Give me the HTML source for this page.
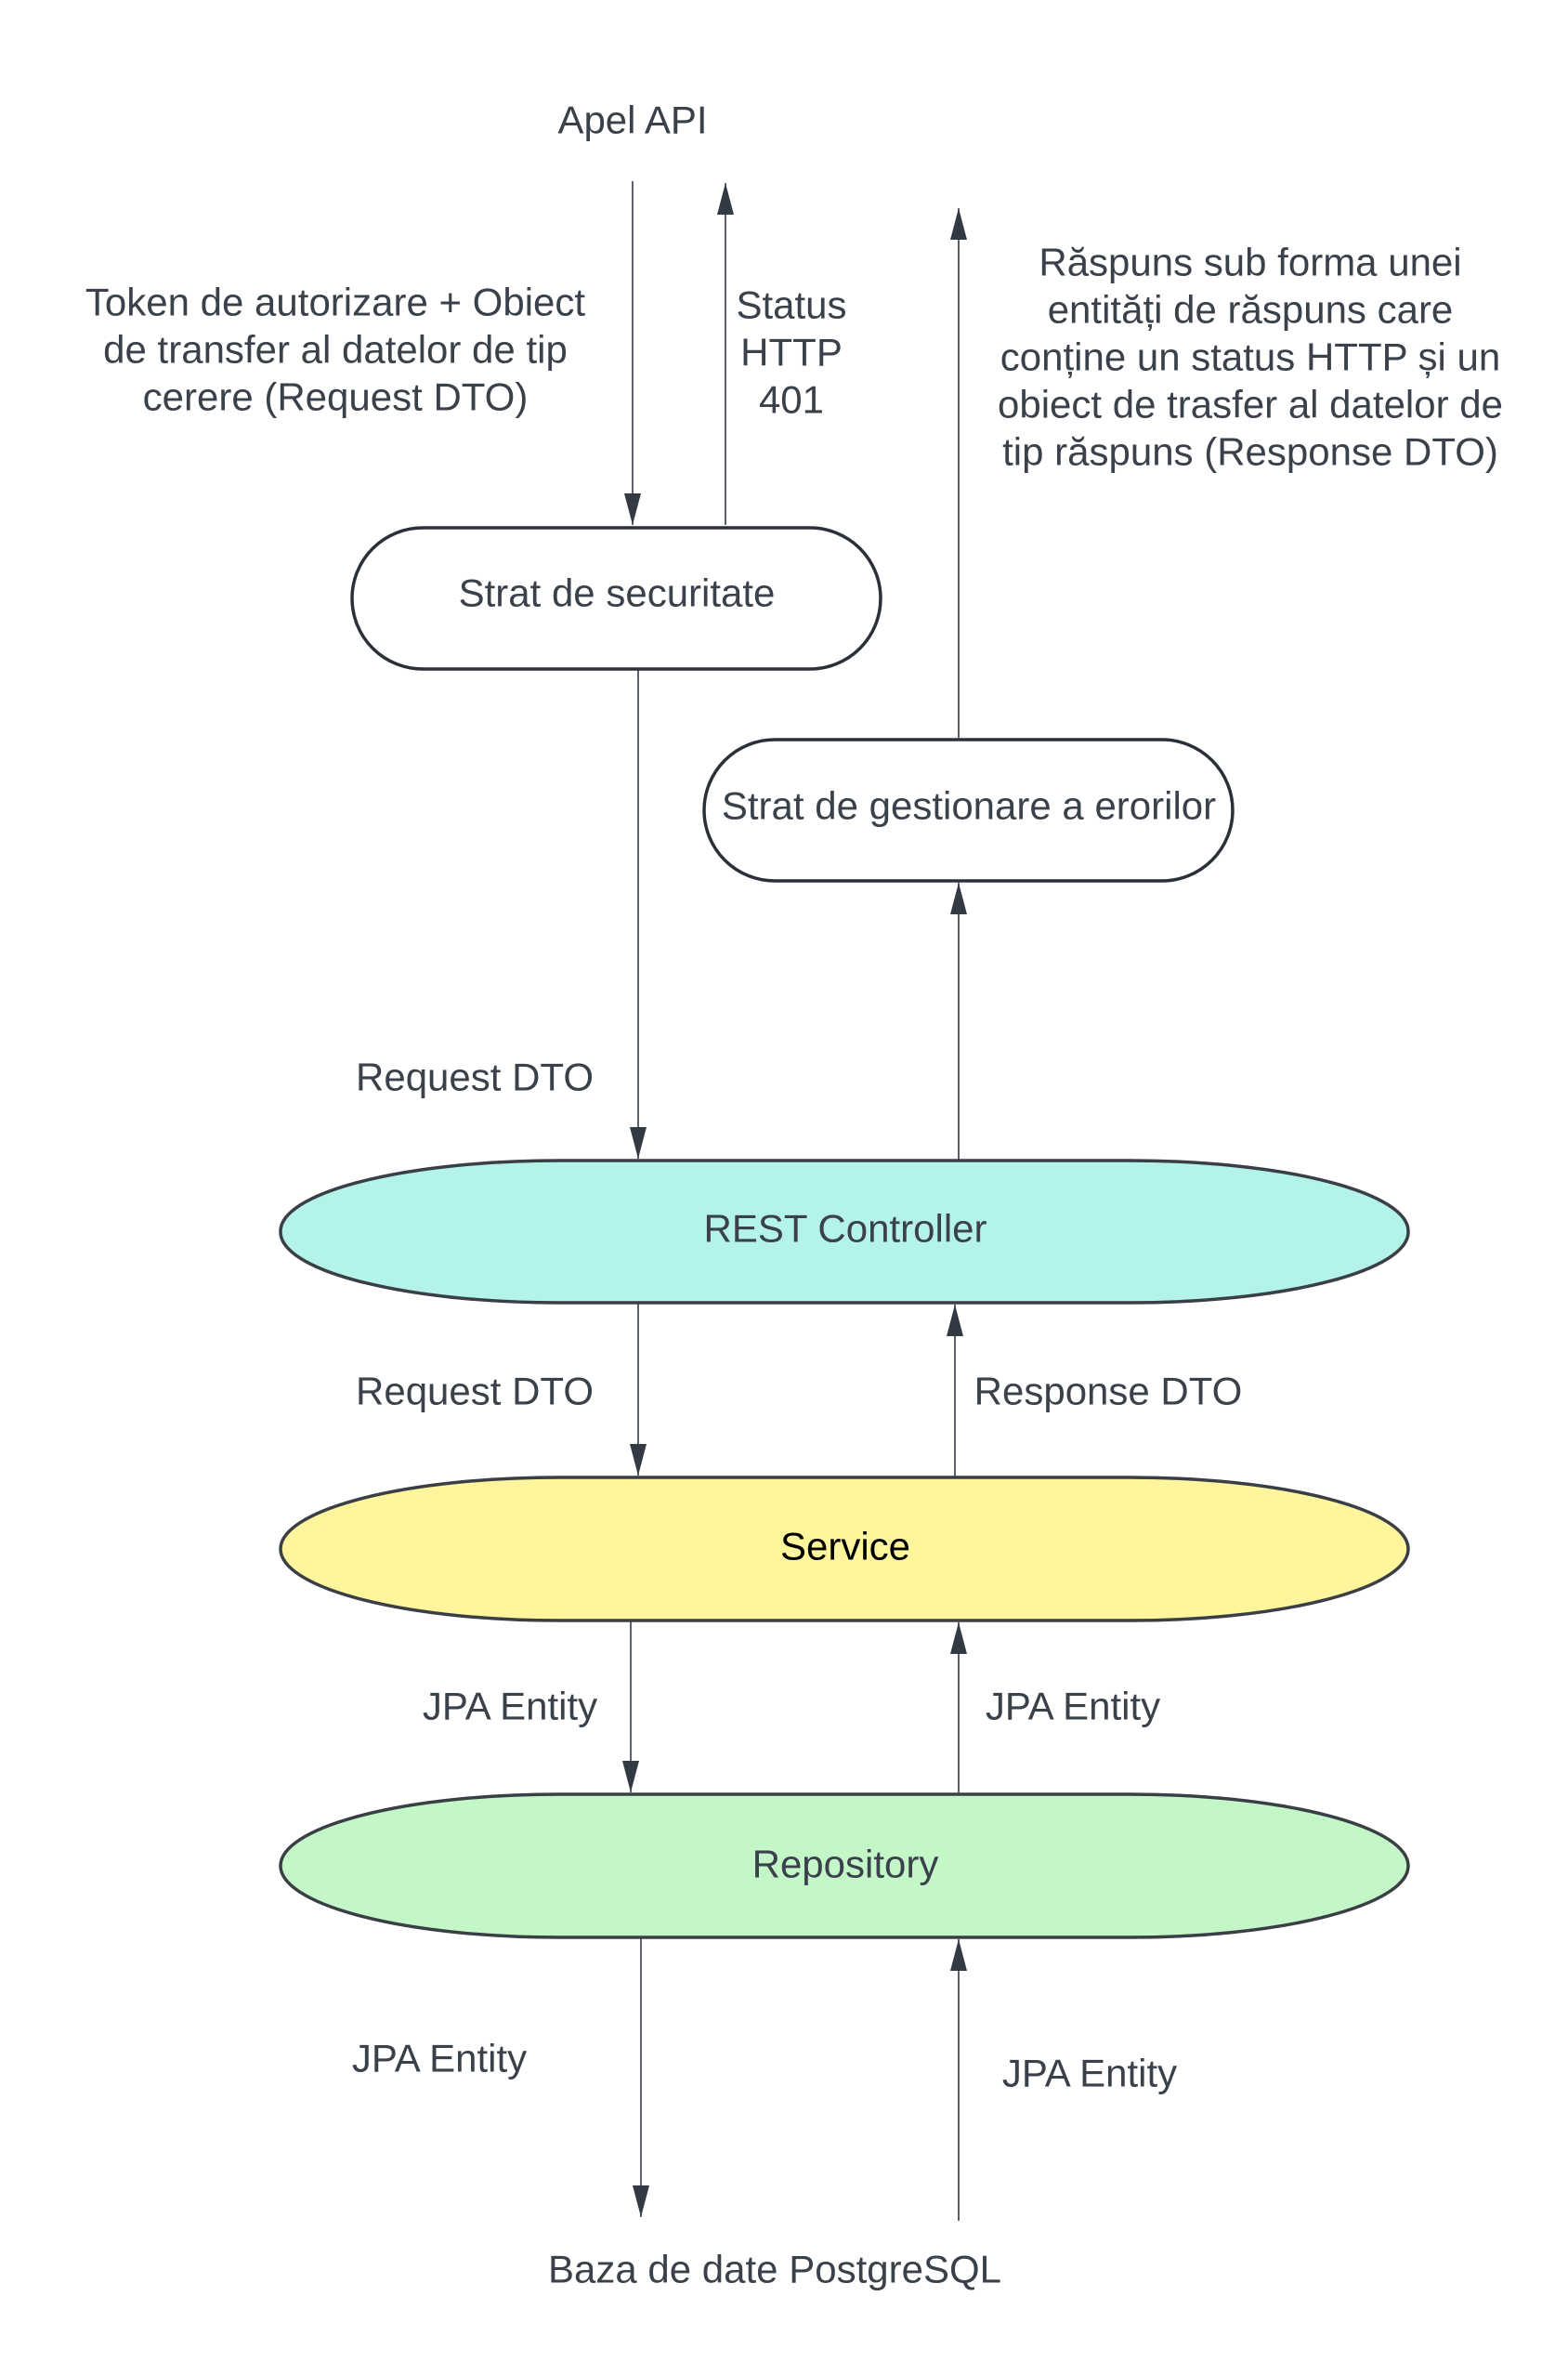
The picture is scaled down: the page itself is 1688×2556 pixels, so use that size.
<!DOCTYPE html>
<html><head><meta charset="utf-8"><style>
html,body{margin:0;padding:0;background:#fff}
svg{display:block}
text{font-family:"Liberation Sans",sans-serif;font-size:42px;fill:#3a414a;text-anchor:middle;dominant-baseline:central}
</style></head><body>
<svg width="1688" height="2556" viewBox="0 0 1688 2556" xmlns="http://www.w3.org/2000/svg">
<defs>
<marker id="a" markerWidth="36" markerHeight="20" refX="34" refY="10" orient="auto" markerUnits="userSpaceOnUse" viewBox="0 0 36 20">
<path d="M0,1 L34,10 L0,19 Z" fill="#333a44"/>
</marker>
</defs>
<g stroke="#333a44" stroke-width="1.6" fill="none">
<line x1="681" y1="195" x2="681" y2="565" marker-end="url(#a)"/>
<line x1="781" y1="565" x2="781" y2="197" marker-end="url(#a)"/>
<line x1="1032" y1="794" x2="1032" y2="224" marker-end="url(#a)"/>
<line x1="687" y1="720" x2="687" y2="1247" marker-end="url(#a)"/>
<line x1="1032" y1="1249" x2="1032" y2="950" marker-end="url(#a)"/>
<line x1="687" y1="1402" x2="687" y2="1588" marker-end="url(#a)"/>
<line x1="1028" y1="1590" x2="1028" y2="1404" marker-end="url(#a)"/>
<line x1="679" y1="1744" x2="679" y2="1929" marker-end="url(#a)"/>
<line x1="1032" y1="1931" x2="1032" y2="1746" marker-end="url(#a)"/>
<line x1="690" y1="2085" x2="690" y2="2386" marker-end="url(#a)"/>
<line x1="1032" y1="2390" x2="1032" y2="2087" marker-end="url(#a)"/>
</g>
<g stroke="#2b3038" stroke-width="3.5">
<rect x="379" y="568" width="569" height="152" rx="76" ry="76" fill="#fff"/>
<rect x="758" y="796" width="569" height="152" rx="76" ry="76" fill="#fff"/>
<rect x="302" y="1249" width="1214" height="153" rx="300" ry="76" fill="#b4f3ea" stroke="#3a3f46"/>
<rect x="302" y="1590" width="1214" height="154" rx="300" ry="77" fill="#fff59d" stroke="#3a3f46"/>
<rect x="302" y="1931" width="1214" height="154" rx="300" ry="77" fill="#c3f7c8" stroke="#3a3f46"/>
</g>
<text x="681" y="129">Apel API</text>
<text x="361" y="325">Token de autorizare + Obiect</text>
<text x="361" y="376">de transfer al datelor de tip</text>
<text x="361" y="427">cerere (Request DTO)</text>
<text x="852" y="328">Status</text>
<text x="852" y="379">HTTP</text>
<text x="852" y="430">401</text>
<text x="1346" y="282">Răspuns sub forma unei</text>
<text x="1346" y="333">entități de răspuns care</text>
<text x="1346" y="384">conține un status HTTP și un</text>
<text x="1346" y="435">obiect de trasfer al datelor de</text>
<text x="1346" y="486">tip răspuns (Response DTO)</text>
<text x="664" y="638">Strat de securitate</text>
<text x="1043" y="867">Strat de gestionare a erorilor</text>
<text x="511" y="1159">Request DTO</text>
<text x="910" y="1322">REST Controller</text>
<text x="511" y="1497">Request DTO</text>
<text x="1193" y="1497">Response DTO</text>
<text x="910" y="1664" style="fill:#000">Service</text>
<text x="549" y="1836">JPA Entity</text>
<text x="1155" y="1836">JPA Entity</text>
<text x="910" y="2006">Repository</text>
<text x="473" y="2215">JPA Entity</text>
<text x="1173" y="2231">JPA Entity</text>
<text x="834" y="2442">Baza de date PostgreSQL</text>
</svg>
</body></html>
